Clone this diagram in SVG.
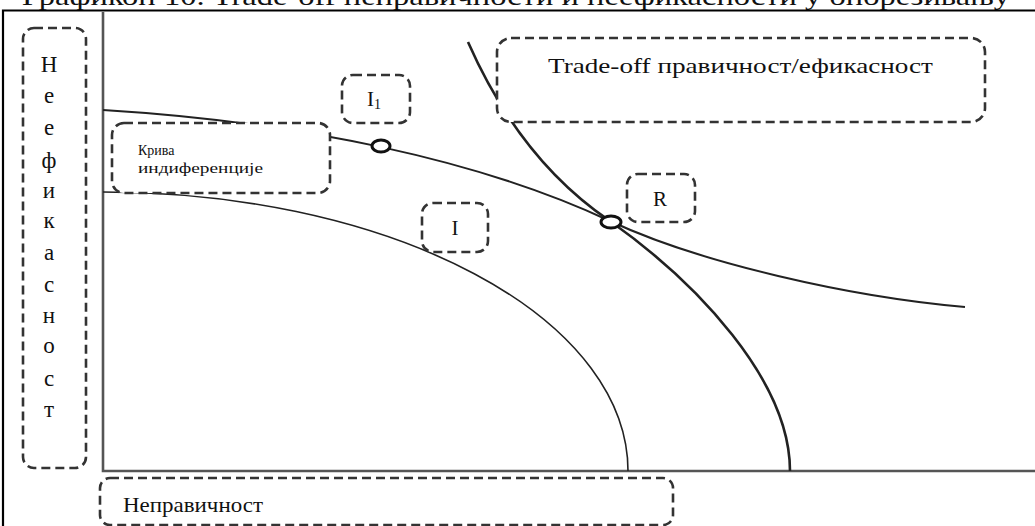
<svg xmlns="http://www.w3.org/2000/svg" width="1035" height="526" viewBox="0 0 1035 526">
<style>
.box{fill:#fff;stroke:#333;stroke-width:2.6;stroke-dasharray:9 5}
.t{font-family:"Liberation Serif","Times New Roman",serif;fill:#111}
.axis{stroke:#555;stroke-width:2.6;fill:none}
.curve{fill:none;stroke:#222}
.pt{fill:#fff;stroke:#111;stroke-width:3}
</style>
<rect width="1035" height="526" fill="#fff"/>
<text class="t" x="22" y="5" font-size="26" textLength="988" lengthAdjust="spacingAndGlyphs">Графикон 10. Trade-off неправичности и неефикасности у опорезивању</text>
<g id="frame">
<path d="M3,526 V10.5 H1035" fill="none" stroke="#000" stroke-width="2.2"/>
</g>
<g id="axes">
<path class="axis" d="M103,12 V471 H1035"/>
</g>
<g id="connectors">
<path class="curve" stroke-width="1.6" d="M103,192 A525,279 0 0 1 628,471"/>
<path class="curve" stroke-width="2.6" stroke="#333" d="M468,42 Q520,160 610,221 C696,282 790,380 790,471"/>
<path class="curve" stroke-width="2" d="M103,110 C300,122 480,160 610,221 C700,263 850,297 965,307"/>
</g>
<g id="point-I1"><ellipse class="pt" cx="381" cy="146" rx="9" ry="6"/></g>
<g id="point-R"><ellipse class="pt" cx="611" cy="222" rx="10" ry="6"/></g>
<g id="node-yaxis">
<rect class="box" x="23" y="28" width="63" height="440" rx="11"/>
<g class="t" font-size="23" text-anchor="middle">
<text x="49" y="72">Н</text>
<text x="49" y="103">е</text>
<text x="49" y="135">е</text>
<text x="49" y="168">ф</text>
<text x="49" y="198">и</text>
<text x="49" y="228">к</text>
<text x="49" y="260">а</text>
<text x="49" y="292">с</text>
<text x="49" y="323">н</text>
<text x="49" y="353">о</text>
<text x="49" y="386">с</text>
<text x="49" y="417">т</text>
</g>
</g>
<g id="node-kriva">
<rect class="box" x="112" y="123" width="218" height="70" rx="12"/>
<text class="t" x="138" y="155" font-size="14">Крива</text>
<text class="t" x="138" y="173" font-size="14" textLength="125" lengthAdjust="spacingAndGlyphs">индиференције</text>
</g>
<g id="node-I1">
<rect class="box" x="342" y="75" width="68" height="48" rx="11"/>
<text class="t" x="367" y="106" font-size="21">I<tspan font-size="14" dy="3">1</tspan></text>
</g>
<g id="node-I">
<rect class="box" x="422" y="203" width="66" height="49" rx="11"/>
<text class="t" x="455" y="235" font-size="21" text-anchor="middle">I</text>
</g>
<g id="node-R">
<rect class="box" x="627" y="174" width="68" height="48" rx="11"/>
<text class="t" x="660" y="206" font-size="21" text-anchor="middle">R</text>
</g>
<g id="node-tradeoff">
<rect class="box" x="497" y="38" width="488" height="84" rx="14"/>
<text class="t" x="548" y="73" font-size="21" textLength="385" lengthAdjust="spacingAndGlyphs">Trade-off правичност/ефикасност</text>
</g>
<g id="node-xaxis">
<rect class="box" x="100" y="478" width="573" height="47" rx="10"/>
<text class="t" x="123" y="512" font-size="22" textLength="140" lengthAdjust="spacingAndGlyphs">Неправичност</text>
</g>
</svg>
